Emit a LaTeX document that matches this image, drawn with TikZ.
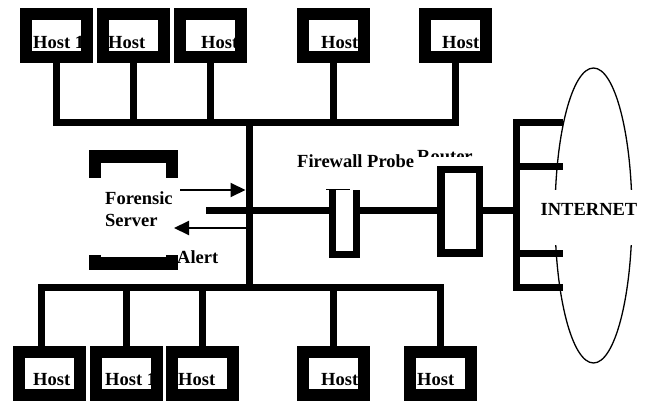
\documentclass[tikz,border=0pt]{standalone}
\usepackage{fontspec}
\setmainfont{Liberation Serif}
\usetikzlibrary{arrows.meta, shapes.geometric}

\begin{document}
\begin{tikzpicture}[x=1pt, y=-1pt, hostStyle/.style={rectangle, draw, line width=12pt, minimum width=61pt, minimum height=43pt, inner sep=0pt}, textStyle/.style={anchor=base west, inner sep=0pt, font=\fontsize{18.5}{22}\selectfont\bfseries}, wireStyle/.style={line width=7pt, line join=miter}, arrowStyle/.style={line width=2pt, -{Triangle[length=15pt, width=14pt]}}]
                    \useasboundingbox (0,0) rectangle (646,401);

                    \node[textStyle](top_T0) at ( 33, 49) {Host 1};
                    \node[textStyle](top_T1) at (108, 49) {Host};
                    \node[textStyle](top_T2) at (201, 49) {Host};
                    \node[textStyle](top_T3) at (321, 49) {Host};
                    \node[textStyle](top_T4) at (442, 49) {Host};

                    \node[hostStyle](top_0) at ( 56.5, 35.5) {};
                    \node[hostStyle](top_1) at (133.5, 35.5) {};
                    \node[hostStyle](top_2) at (210  , 35.5) {};
                    \node[hostStyle](top_3) at (333  , 35.5) {};
                    \node[hostStyle](top_4) at (455.5, 35.5) {};

                    \node[textStyle](bot_T0) at ( 33, 385) {Host};
                    \node[textStyle](bot_T1) at (105, 385) {Host 1};
                    \node[textStyle](bot_T2) at (178, 385) {Host};
                    \node[textStyle](bot_T3) at (321, 385) {Host};
                    \node[textStyle](bot_T4) at (417, 385) {Host};

                    \node[hostStyle](bot_0) at ( 49.5, 373.5) {};
                    \node[hostStyle](bot_1) at (126  , 373.5) {};
                    \node[hostStyle](bot_2) at (202.5, 373.5) {};
                    \node[hostStyle](bot_3) at (333  , 373.5) {};
                    \node[hostStyle](bot_4) at (440.5, 373.5) {};

                    \coordinate (busTop) at (249, 123);
                    \coordinate (busBot) at (249, 287);
                    \coordinate (bot_S0) at ( 41, 287);

                    \draw[wireStyle] (top_0.south) -- (top_0.south |- busTop) -- (top_4.south |- busTop) -- (top_4.south);
                    \draw[wireStyle] (top_1.south) -- (top_1.south |- busTop);
                    \draw[wireStyle] (top_2.south) -- (top_2.south |- busTop);
                    \draw[wireStyle] (top_3.south) -- (top_3.south |- busTop);

                    \draw[wireStyle] (bot_S0 |- bot_0.north) -- (bot_S0) -- (bot_4.north |- busBot) -- (bot_4.north);
                    \draw[wireStyle] (bot_1.north) -- (bot_1.north |- busBot);
                    \draw[wireStyle] (bot_2.north) -- (bot_2.north |- busBot);
                    \draw[wireStyle] (bot_3.north) -- (bot_3.north |- busBot);

                    \draw[wireStyle] (busTop) -- (busBot);

                    \node[rectangle, draw, line width=12.5pt, minimum width=77pt, minimum height=107pt](server) at (133.5, 210) {};
                    \node[rectangle, fill=white, minimum width=100pt, minimum height=77pt](server_M) at (133.5, 216.5) {};
                    \node[textStyle](server_T0) at (105, 205) {Forensic};
                    \node[textStyle](server_T1) at (105, 227) {Server};
                    \node[textStyle](alert) at (177, 264) {Alert};

                    \node[rectangle, inner sep=0pt, outer sep=0pt, minimum width=24pt, minimum height=64.5pt](fw) at (344.5, 222.25) {};
                    \draw[wireStyle] (fw.north west) -- (fw.south west) -- (fw.south east) -- (fw.north east);
                    \draw[line width=1pt] ([xshift=-6.5pt]fw.north west) -- ([xshift=17.5pt]fw.north west);
                    \node[textStyle](fw_T) at (297, 168) {Firewall Probe};

                    \node[rectangle, draw, line width=7.5pt, minimum width=38.5pt, minimum height=83.5pt](router) at (460, 211.5) {};
                    \begin{scope}
                        \clip (410, 140) rectangle (480, 157);
                        \node[textStyle](router_T) at (417, 162.5) {Router};
                    \end{scope}

                    \coordinate (srvLink) at (206, 210.5);
                    \coordinate (netTop) at (516.5, 123);
                    \coordinate (netBot) at (516.5, 287);
                    \coordinate (netS1) at (516.5, 166.5);
                    \coordinate (netS2) at (516.5, 254);

                    \draw[wireStyle] (srvLink) -- (fw.west |- srvLink);
                    \draw[wireStyle] (fw.east |- srvLink) -- (router.west |- srvLink);
                    \draw[wireStyle] (router.east |- srvLink) -- (netTop |- srvLink);

                    \node[ellipse, draw, line width=1.3pt, inner sep=0pt, minimum width=77pt, minimum height=295pt](internet) at (593.5, 215.5) {};

                    \draw[wireStyle] ([xshift=46.5pt]netTop) -- (netTop) -- (netBot) -- ([xshift=46.5pt]netBot);
                    \draw[wireStyle] (netS1) -- ++(46.5, 0);
                    \draw[wireStyle] (netS2) -- ++(46.5, 0);

                    \node[textStyle, anchor=base, fill=white, text height=26pt, text depth=29pt, minimum width=100pt](internet_T) at (589, 216) {INTERNET};

                    \coordinate (srvOut) at (180, 190);
                    \coordinate (trunkIn) at (245.5, 190);
                    \coordinate (trunkOut) at (245.5, 228);
                    \coordinate (srvIn) at (174, 228);

                    \draw[arrowStyle] (srvOut) -- (trunkIn);
                    \draw[arrowStyle] (trunkOut) -- (srvIn);
                \end{tikzpicture}
\end{document}
